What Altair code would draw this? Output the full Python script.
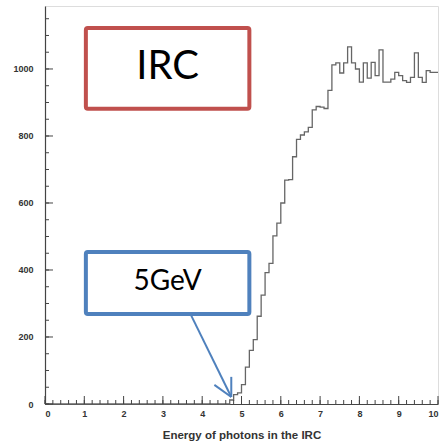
import altair as alt
import pandas as pd

# Histogram: photon energy in the IRC, 100 bins of 0.1 GeV from 0 to 10
bin_width = 0.1
bin_low = [round(i * bin_width, 1) for i in range(100)]
counts = [0] * 47 + [
    12, 28, 33, 58, 110, 160, 192, 262, 325, 392,
    420, 502, 540, 600, 668, 670, 738, 790, 803, 812,
    826, 878, 888, 886, 882, 936, 1012, 1018, 988, 1018,
    1066, 1018, 1000, 961, 1018, 973, 1020, 980, 1057, 961,
    961, 970, 990, 980, 965, 960, 975, 1048, 975, 960,
    995, 990, 990,
]

x_labels = [0, 1, 2, 3, 4, 5, 6, 7, 8, 9, 10]
y_labels = [0, 200, 400, 600, 800, 1000]
x_minor = [round(i * 0.2, 1) for i in range(51)]
y_minor = [i * 50 for i in range(24)]

# Annotation boxes and arrow (data coordinates)
boxes = pd.DataFrame({
    "x0": [1.04, 1.04], "x1": [5.20, 5.20],
    "y0": [881, 269], "y1": [1122, 454],
    "label": ["IRC", "5GeV"],
    "color": ["#c0504d", "#4f81bd"],
})
arrow_x = [3.70, 4.74]
arrow_y = [269, 21]
head_x = [4.31, 4.74]
head_y = [57, 81]

W, H = 393, 398
x_scale = alt.Scale(domain=[0, 10], nice=False, zero=False)
y_scale = alt.Scale(domain=[0, 1188], nice=False)

axis_style = dict(labelFont="Liberation Sans", labelFontWeight="bold", labelFontSize=9,
                  labelColor="#333", ticks=False, grid=False, domainColor="#444",
                  domainWidth=1.2, labelOverlap=False, format="d")
x_axis = alt.Axis(values=x_labels, title="Energy of photons in the IRC",
                  titleFont="Liberation Sans", titleFontSize=11.5, titleFontWeight="bold",
                  titleColor="#333", titlePadding=11, labelPadding=5, **axis_style)
y_axis = alt.Axis(values=y_labels, title=None, labelPadding=12, **axis_style)

hist_df = pd.DataFrame({"E": bin_low + [10.0], "N": counts + [counts[-1]]})

hist = alt.Chart(hist_df).mark_line(
    interpolate="step-after", color="#666", strokeWidth=1.3
).encode(
    x=alt.X("E:Q", scale=x_scale, axis=x_axis),
    y=alt.Y("N:Q", scale=y_scale, axis=y_axis),
)

xt_major = alt.Chart(pd.DataFrame({"v": x_labels})).mark_rule(color="#444", strokeWidth=1).encode(
    x=alt.X("v:Q", scale=x_scale, axis=x_axis), y=alt.value(H), y2=alt.value(H - 8))
xt_minor = alt.Chart(pd.DataFrame({"v": x_minor})).mark_rule(color="#444", strokeWidth=1).encode(
    x=alt.X("v:Q", scale=x_scale, axis=x_axis), y=alt.value(H), y2=alt.value(H - 4))
yt_major = alt.Chart(pd.DataFrame({"v": y_labels})).mark_rule(color="#444", strokeWidth=1).encode(
    y=alt.Y("v:Q", scale=y_scale, axis=y_axis), x=alt.value(0), x2=alt.value(8))
yt_minor = alt.Chart(pd.DataFrame({"v": y_minor})).mark_rule(color="#444", strokeWidth=1).encode(
    y=alt.Y("v:Q", scale=y_scale, axis=y_axis), x=alt.value(0), x2=alt.value(4))

box_marks = alt.Chart(boxes).mark_rect(fillOpacity=0, strokeWidth=4, cornerRadius=2).encode(
    x=alt.X("x0:Q", scale=x_scale, axis=x_axis), x2="x1:Q",
    y=alt.Y("y0:Q", scale=y_scale, axis=y_axis), y2="y1:Q",
    stroke=alt.Stroke("color:N", scale=None),
)

irc_text = alt.Chart(boxes.iloc[[0]]).mark_text(
    font="Lato", fontSize=40, color="black", align="center", baseline="middle"
).encode(
    x=alt.X("mx:Q", scale=x_scale, axis=x_axis), y=alt.Y("my:Q", scale=y_scale, axis=y_axis),
    text="label:N"
).transform_calculate(mx="(datum.x0 + datum.x1) / 2", my="(datum.y0 + datum.y1) / 2 + 5")

gev_text = alt.Chart(boxes.iloc[[1]]).mark_text(
    font="Lato", fontSize=28, color="black", align="center", baseline="middle"
).encode(
    x=alt.X("mx:Q", scale=x_scale, axis=x_axis), y=alt.Y("my:Q", scale=y_scale, axis=y_axis),
    text="label:N"
).transform_calculate(mx="(datum.x0 + datum.x1) / 2", my="(datum.y0 + datum.y1) / 2 + 3")

arrow_df = pd.DataFrame({
    "x0": [arrow_x[0], head_x[0], head_x[1]],
    "y0": [arrow_y[0], head_y[0], head_y[1]],
    "x1": [arrow_x[1]] * 3,
    "y1": [arrow_y[1]] * 3,
})
arrow = alt.Chart(arrow_df).mark_rule(color="#4f81bd", strokeWidth=2).encode(
    x=alt.X("x0:Q", scale=x_scale, axis=x_axis), x2="x1:Q",
    y=alt.Y("y0:Q", scale=y_scale, axis=y_axis), y2="y1:Q",
)

chart = alt.layer(
    hist, xt_minor, xt_major, yt_minor, yt_major, box_marks, irc_text, gev_text, arrow
).properties(
    width=W, height=H,
    autosize=alt.AutoSizeParams(type="none"),
    padding={"left": 45, "top": 6, "right": 8, "bottom": 43},
).configure_view(stroke="#999", strokeWidth=1).configure(background="white")

chart.save("out.html", embed_options={"renderer": "svg", "actions": False})
